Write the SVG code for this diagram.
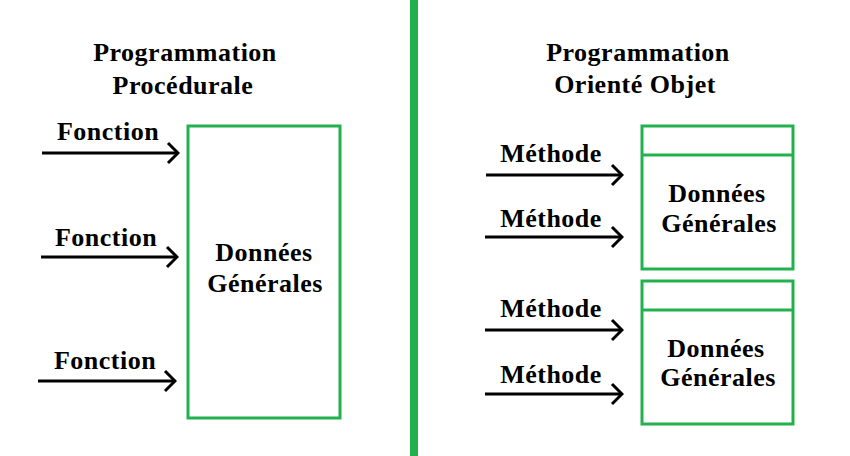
<svg xmlns="http://www.w3.org/2000/svg" width="850" height="456" viewBox="0 0 850 456">
<style>
.t{font-family:"Liberation Serif","Times New Roman",serif;font-weight:bold;font-size:26px;letter-spacing:0.5px;fill:#000;text-anchor:middle}
.box{fill:none;stroke:#22b14c;stroke-width:3}
.arr{stroke:#000;stroke-width:3;fill:none;marker-end:url(#ah)}
</style>
<defs>
<marker id="ah" markerUnits="userSpaceOnUse" viewBox="0 0 14 24" refX="12" refY="12" markerWidth="14" markerHeight="24" orient="auto">
<path d="M2,2 L12,12 L2,22" fill="none" stroke="#000" stroke-width="3"/>
</marker>
</defs>
<rect width="850" height="456" fill="#fff"/>
<rect id="divider" x="410" y="0" width="8" height="456" fill="#22b14c"/>
<g id="title-left"><text class="t" x="185" y="61">Programmation</text><text class="t" x="183" y="94">Procédurale</text></g>
<g id="title-right"><text class="t" x="638" y="61">Programmation</text><text class="t" x="635" y="93">Orienté Objet</text></g>
<g id="data-left"><rect class="box" x="188" y="126" width="152" height="292"/><text class="t" x="264" y="261">Données</text><text class="t" x="265" y="292">Générales</text></g>
<g id="object-1"><rect class="box" x="642" y="126" width="151" height="143"/><line x1="642" y1="155" x2="793" y2="155" stroke="#22b14c" stroke-width="3"/><text class="t" x="717" y="202">Données</text><text class="t" x="719" y="232">Générales</text></g>
<g id="object-2"><rect class="box" x="642" y="281" width="151" height="143"/><line x1="642" y1="310" x2="793" y2="310" stroke="#22b14c" stroke-width="3"/><text class="t" x="716" y="357">Données</text><text class="t" x="718" y="386">Générales</text></g>
<g id="connectors">
<line class="arr" x1="42" y1="153" x2="178" y2="153"/>
<line class="arr" x1="41" y1="257" x2="177" y2="257"/>
<line class="arr" x1="38" y1="381" x2="175" y2="381"/>
<line class="arr" x1="486" y1="175" x2="622" y2="175"/>
<line class="arr" x1="485" y1="237" x2="622" y2="237"/>
<line class="arr" x1="485" y1="330" x2="622" y2="330"/>
<line class="arr" x1="485" y1="394" x2="622" y2="394"/>
</g>
<g id="labels">
<text class="t" x="108" y="140">Fonction</text>
<text class="t" x="106" y="246">Fonction</text>
<text class="t" x="105" y="369">Fonction</text>
<text class="t" x="551" y="162">Méthode</text>
<text class="t" x="551" y="227">Méthode</text>
<text class="t" x="551" y="317">Méthode</text>
<text class="t" x="551" y="383">Méthode</text>
</g>
</svg>
